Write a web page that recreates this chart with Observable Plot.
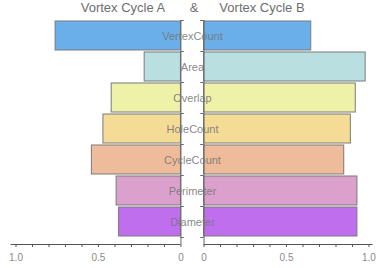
<!DOCTYPE html>
<html>
<head>
<meta charset="utf-8">
<script src="https://cdn.jsdelivr.net/npm/d3@7"></script>
<script src="https://cdn.jsdelivr.net/npm/@observablehq/plot@0.6"></script>
<style>
  html, body { margin: 0; padding: 0; background: #fff; }
  #wrap { position: relative; width: 382px; height: 268px; font-family: "Liberation Sans", Arial, sans-serif; }
  #title { position: relative; height: 16px; font-size: 13px; color: #6e6e6e; line-height: 16px; }
  #title span { position: absolute; top: 0; transform: translateX(-50%); white-space: nowrap; }
</style>
</head>
<body>
<div id="wrap">
  <div id="title">
    <span style="left:123px">Vortex Cycle A</span>
    <span style="left:194px">&amp;</span>
    <span style="left:262px">Vortex Cycle B</span>
  </div>
  <div id="chart"></div>
</div>
<script>
const categories = ["VertexCount", "Area", "Overlap", "HoleCount", "CycleCount", "Perimeter", "Diameter"];
const seriesA = [0.76, 0.22, 0.42, 0.47, 0.54, 0.39, 0.375];
const seriesB = [0.65, 0.98, 0.92, 0.89, 0.85, 0.93, 0.93];
const colors = ["#6aaeea", "#b9dfe0", "#eef2a8", "#f5dc96", "#eebc9a", "#dca0cc", "#bf6fee"];
const tickValues = [0, 0.1, 0.2, 0.3, 0.4, 0.5, 0.6, 0.7, 0.8, 0.9, 1.0];
const labeledTicks = [0, 0.5, 1.0];

const gap = 0.07;             // half-gap between the two panels, in value units
const pad = 1 / 31;           // bar padding in band units
const axisPos = categories.length + 0.226;

const rows = categories.map((c, i) => ({c, i, a: seriesA[i], b: seriesB[i], color: colors[i]}));
const boundaries = d3.range(categories.length + 1);

const leftTicks = tickValues.map(v => ({pos: -(v + gap), v}));
const rightTicks = tickValues.map(v => ({pos: v + gap, v}));
const allTicks = leftTicks.concat(rightTicks);
const fmt = v => v === 0 ? "0" : v.toFixed(1);

const chart = Plot.plot({
  width: 382,
  height: 252,
  marginLeft: 0,
  marginRight: 0,
  marginTop: 4,
  marginBottom: 24,
  style: {fontFamily: "'Liberation Sans', Arial, sans-serif", background: "white"},
  x: {domain: [-1.164, 1.152], axis: null, label: null},
  y: {domain: [0, axisPos], reverse: true, axis: null, label: null},
  marks: [
    // left bars (Cycle A)
    Plot.rectX(rows, {x1: d => -gap, x2: d => -(d.a + gap), y1: d => d.i + pad, y2: d => d.i + 1 - pad,
      fill: d => d.color, stroke: "#7a7a7a", strokeWidth: 1}),
    // right bars (Cycle B)
    Plot.rectX(rows, {x1: d => gap, x2: d => d.b + gap, y1: d => d.i + pad, y2: d => d.i + 1 - pad,
      fill: d => d.color, stroke: "#7a7a7a", strokeWidth: 1}),
    // inner vertical axis lines
    Plot.ruleX([-gap, gap], {y1: 0, y2: axisPos, stroke: "#666", strokeWidth: 1}),
    // band boundary ticks pointing into the gap
    Plot.ruleY(boundaries, {y: d => d, x1: -gap, x2: -gap + 0.02, stroke: "#666"}),
    Plot.ruleY(boundaries, {y: d => d, x1: gap - 0.02, x2: gap, stroke: "#666"}),
    // bottom axis lines
    Plot.ruleY([axisPos], {x1: -(1.03 + gap), x2: -gap, stroke: "#555"}),
    Plot.ruleY([axisPos], {x1: gap, x2: 1.025 + gap, stroke: "#555"}),
    // axis ticks
    Plot.axisX(allTicks.map(d => d.pos), {tickSize: 3, tickFormat: () => "", label: null, stroke: "#555"}),
    Plot.text(allTicks.filter(d => labeledTicks.includes(d.v)), {
      x: "pos", y: axisPos, text: d => fmt(d.v), dy: 13, fontSize: 10, fill: "#8a8a8a"}),
    // category labels
    Plot.text(rows, {x: 0, y: d => d.i + 0.5, text: "c", fontSize: 11, fill: "#777", fillOpacity: 0.9})
  ]
});
document.getElementById("chart").appendChild(chart);
</script>
</body>
</html>
